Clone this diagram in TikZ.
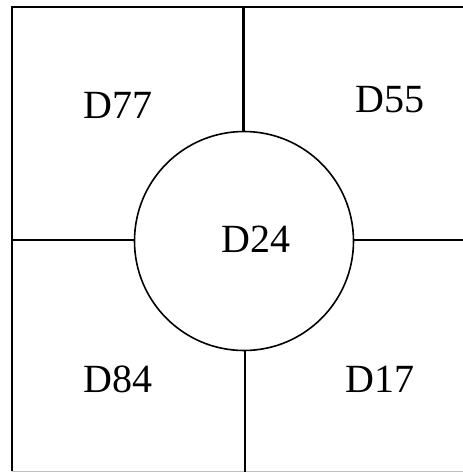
\documentclass[tikz,border=0pt]{standalone}
\usepackage{fontspec}
\setmainfont{Liberation Serif}
\begin{document}
\begin{tikzpicture}[x=1pt,y=-1pt,
  lbl/.style={anchor=base,inner sep=0pt,font=\fontsize{40}{40}\selectfont},
  thinline/.style={line width=1.8pt}]
\useasboundingbox (0,0) rectangle (463,472);
\fill[white] (0,0) rectangle (463,472);
% outer frame
\coordinate (tl) at (12,7);
\coordinate (tr) at (470,7);
\coordinate (bl) at (12,471);
\coordinate (br) at (470,471);
\draw[line width=2.2pt] (bl) -- (tl) -- (tr);
\draw[line width=1pt,black!25] (bl) -- (br);
% centre circle
\node[circle,draw,line width=1.6pt,minimum size=219pt,inner sep=0pt] (c) at (244,241) {};
\coordinate (top) at (243,7);
\coordinate (bot) at (245,472);
\coordinate (lft) at (12,240);
\coordinate (rgt) at (463,240);
\draw[line width=3pt] (c.north -| top) -- (top);
\draw[thinline] (c.south -| bot) -- (bot);
\draw[thinline] (c.west |- lft) -- (lft);
\draw[thinline] (c.east |- rgt) -- (rgt);
% labels
\node[lbl] (d77) at (118,118) {D77};
\node[lbl] (d55) at (390,112) {D55};
\node[lbl] (d24) at (256,252) {D24};
\node[lbl] (d84) at (118,392) {D84};
\node[lbl] (d17) at (380,392) {D17};
\end{tikzpicture}
\end{document}
